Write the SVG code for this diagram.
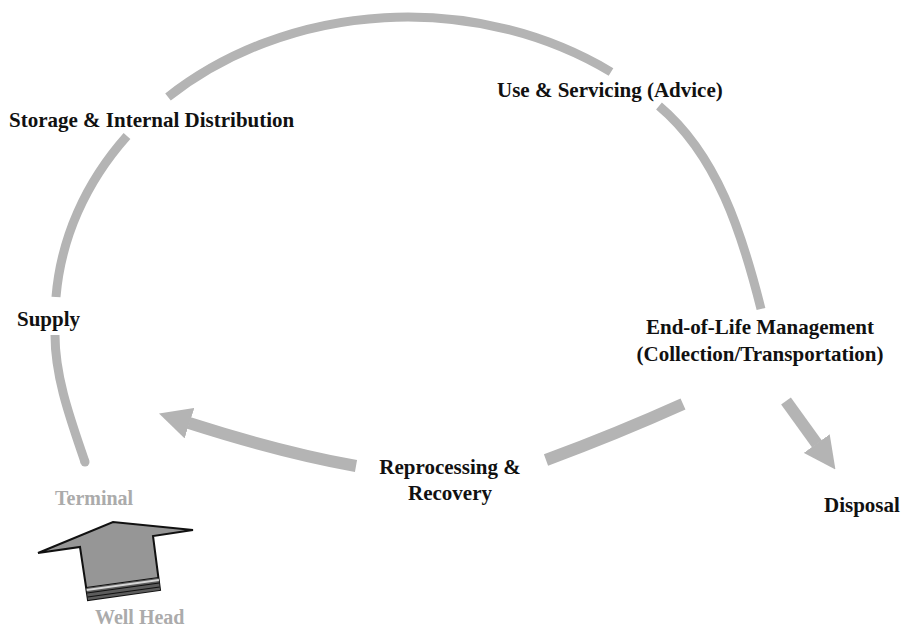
<svg xmlns="http://www.w3.org/2000/svg" width="902" height="629" viewBox="0 0 902 629">
<style>
.lbl{font-family:"Liberation Serif","Times New Roman",serif;font-weight:bold;font-size:21px;fill:#111}
.gry{font-family:"Liberation Serif","Times New Roman",serif;font-weight:bold;font-size:20px;fill:#ababab}
.ring{fill:none;stroke:#b4b4b4;stroke-width:9}
.flow{fill:none;stroke:#b4b4b4;stroke-width:12}
.stripe{fill:none;stroke:#111;stroke-width:1.2}
</style>
<defs>
<marker id="head" markerUnits="userSpaceOnUse" viewBox="0 0 32 32" markerWidth="32" markerHeight="32" refX="0.5" refY="16" orient="auto">
<path d="M0,0 L32,16 L0,32 Z" fill="#b4b4b4"/>
</marker>
</defs>
<rect width="902" height="629" fill="#fff"/>
<g id="connectors">
<path class="ring" d="M55,335 C55,378 71.2,421.2 85,462"/>
<circle cx="85" cy="462" r="4.5" fill="#b4b4b4"/>
<path class="ring" d="M56,297 A350,300 0 0 1 127,136"/>
<path class="ring" d="M168,97 A354,303 0 0 1 611,72"/>
<path class="ring" d="M659,106 C717.2,154.9 742,233.1 761,309"/>
<path class="flow" d="M683,404 Q616.6,433.9 546,460"/>
<path class="flow" d="M356,466 Q281.4,452.6 189,423" marker-end="url(#head)"/>
<path class="flow" d="M786,401 L817,444" marker-end="url(#head)"/>
</g>
<g id="wellhead-arrow">
<polygon points="38,553 113,522 193,530 153,536 160,590 88,600 80,547" fill="#969696" stroke="#111" stroke-width="2" stroke-linejoin="miter"/>
<polygon points="88,600 160,590 158.6,578 86.3,588" fill="#5c5c5c"/>
<line class="stripe" x1="87.6" y1="597" x2="159.7" y2="587"/>
<line class="stripe" x1="87.0" y1="593" x2="159.2" y2="583"/>
<line x1="86.7" y1="590" x2="158.9" y2="580" stroke="#d6d6d6" stroke-width="2"/>
<line class="stripe" x1="86.3" y1="587.5" x2="158.5" y2="577.5"/>
</g>
<g id="node-storage"><text class="lbl" x="9" y="127">Storage &amp; Internal Distribution</text></g>
<g id="node-use"><text class="lbl" x="497" y="97">Use &amp; Servicing (Advice)</text></g>
<g id="node-supply"><text class="lbl" x="17" y="326">Supply</text></g>
<g id="node-eol"><text class="lbl" text-anchor="middle" x="760" y="334">End-of-Life Management</text><text class="lbl" text-anchor="middle" x="760" y="361">(Collection/Transportation)</text></g>
<g id="node-reprocessing"><text class="lbl" text-anchor="middle" x="450" y="474">Reprocessing &amp;</text><text class="lbl" text-anchor="middle" x="450" y="500">Recovery</text></g>
<g id="node-disposal"><text class="lbl" x="824" y="512">Disposal</text></g>
<g id="node-terminal"><text class="gry" x="55" y="505">Terminal</text></g>
<g id="node-wellhead"><text class="gry" x="95" y="624">Well Head</text></g>
</svg>
